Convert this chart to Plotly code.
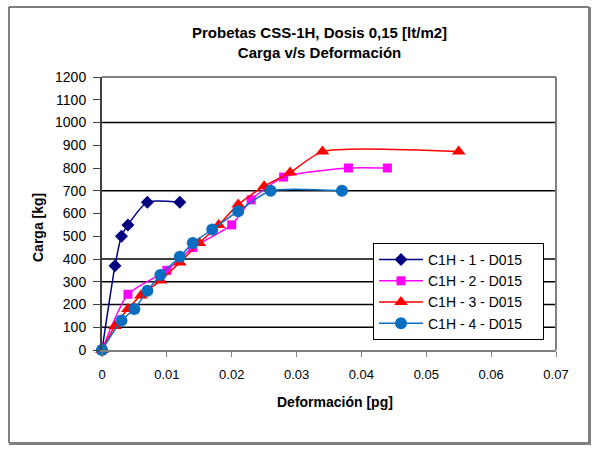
import plotly.graph_objects as go

# Deformación [pg] vs Carga [kg] for each specimen
x1 = [0, 0.002, 0.003, 0.004, 0.007, 0.012]
y1 = [0, 370, 500, 550, 650, 650]

x2 = [0, 0.004, 0.010, 0.014, 0.020, 0.023, 0.028, 0.038, 0.044]
y2 = [0, 245, 350, 450, 550, 660, 760, 800, 800]

x3 = [0, 0.002, 0.004, 0.006, 0.009, 0.012, 0.015, 0.018, 0.021, 0.025, 0.029, 0.034, 0.055]
y3 = [0, 105, 180, 240, 305, 385, 470, 550, 640, 720, 780, 872, 872]

x4 = [0, 0.003, 0.005, 0.007, 0.009, 0.012, 0.014, 0.017, 0.021, 0.026, 0.037]
y4 = [0, 130, 180, 260, 330, 410, 470, 530, 610, 700, 700]

names = ["C1H - 1 - D015", "C1H - 2 - D015", "C1H - 3 - D015", "C1H - 4 - D015"]
colors = ["#000080", "#FF00FF", "#FF0000", "#0A6EC0"]
symbols = ["diamond", "square", "triangle-up", "circle"]
sizes = [10, 9, 12, 12]

# horizontal grid levels drawn on the plot
grid_levels = [100, 200, 300, 400, 700, 1000]

x_ticks = [0, 0.01, 0.02, 0.03, 0.04, 0.05, 0.06, 0.07]
x_tick_text = ["0", "0.01", "0.02", "0.03", "0.04", "0.05", "0.06", "0.07"]
y_ticks = list(range(0, 1201, 100))

fig = go.Figure()
for i, (xs, ys, name, c, s, sz) in enumerate(zip([x1, x2, x3, x4], [y1, y2, y3, y4],
                                                 names, colors, symbols, sizes)):
    fig.add_trace(go.Scatter(
        x=xs, y=ys, name=name + "\u00a0" * 4, mode="lines+markers", legendgroup=f"g{i}",
        line=dict(color=c, width=1.5, shape="spline", smoothing=0.6),
        marker=dict(symbol=s, color=c, size=sz, line=dict(width=0)),
        cliponaxis=False,
    ))

# plot-area geometry in pixels
L, T, R, B = 102, 77, 556, 350
W, H = 592, 449
pw, ph = R - L, B - T
def px(v):
    return (v - L) / pw
def py(v):
    return (B - v) / ph

shapes = []
for g in grid_levels:
    shapes.append(dict(type="line", xref="x", yref="y", x0=0, x1=0.07, y0=g, y1=g,
                       line=dict(color="black", width=1.3), layer="below"))
# plot area frame (top and right in grey)
shapes.append(dict(type="line", xref="paper", yref="paper", x0=0, x1=1, y0=1, y1=1,
                   line=dict(color="#808080", width=2)))
shapes.append(dict(type="line", xref="paper", yref="paper", x0=1, x1=1, y0=0, y1=1,
                   line=dict(color="#808080", width=2)))
# outer chart border with shadow on right/bottom
shapes.append(dict(type="line", xref="paper", yref="paper", x0=px(9), x1=px(9), y0=py(7), y1=py(443),
                   line=dict(color="black", width=1)))
shapes.append(dict(type="line", xref="paper", yref="paper", x0=px(9), x1=px(589), y0=py(7), y1=py(7),
                   line=dict(color="black", width=1)))
shapes.append(dict(type="line", xref="paper", yref="paper", x0=px(589.5), x1=px(589.5), y0=py(7), y1=py(444),
                   line=dict(color="#808080", width=3)))
shapes.append(dict(type="line", xref="paper", yref="paper", x0=px(9), x1=px(591), y0=py(443.5), y1=py(443.5),
                   line=dict(color="#808080", width=3)))

font = "Liberation Sans, Arial, sans-serif"
annotations = [
    dict(text="<b>Probetas CSS-1H, Dosis 0,15 [lt/m2]<br>Carga v/s Deformación</b>",
         xref="paper", yref="paper", x=px(319), y=py(42),
         xanchor="center", yanchor="middle", showarrow=False,
         font=dict(size=15, family=font)),
    dict(text="<b>Carga [kg]</b>", xref="paper", yref="paper", x=px(38), y=py(228),
         xanchor="center", yanchor="middle", textangle=-90, showarrow=False,
         font=dict(size=14, family=font)),
    dict(text="<b>Deformación [pg]</b>", xref="paper", yref="paper", x=px(335), y=py(402),
         xanchor="center", yanchor="middle", showarrow=False,
         font=dict(size=14, family=font)),
]

fig.update_layout(
    width=W, height=H,
    margin=dict(l=L, r=W - R, t=T, b=H - B),
    paper_bgcolor="white", plot_bgcolor="white",
    font=dict(family=font, size=13, color="black"),
    xaxis=dict(range=[0, 0.07], tickvals=x_ticks, ticktext=x_tick_text,
               showgrid=False, zeroline=False, showline=True, linecolor="#808080", linewidth=2,
               ticks="outside", ticklen=5, tickcolor="#808080", tickwidth=1,
               ticklabelstandoff=6, tickfont=dict(size=13)),
    yaxis=dict(range=[0, 1200], tickvals=y_ticks,
               showgrid=False, zeroline=False, showline=True, linecolor="#404040", linewidth=2,
               ticks="outside", ticklen=7, tickcolor="#404040", tickwidth=1,
               ticklabelstandoff=4, tickfont=dict(size=14)),
    legend=dict(x=px(373), y=py(243), xanchor="left", yanchor="top",
                bgcolor="white", bordercolor="black", borderwidth=1,
                font=dict(size=14), tracegroupgap=0, itemwidth=44),
    shapes=shapes,
    annotations=annotations,
    showlegend=True,
)

fig.write_html("out.html")
